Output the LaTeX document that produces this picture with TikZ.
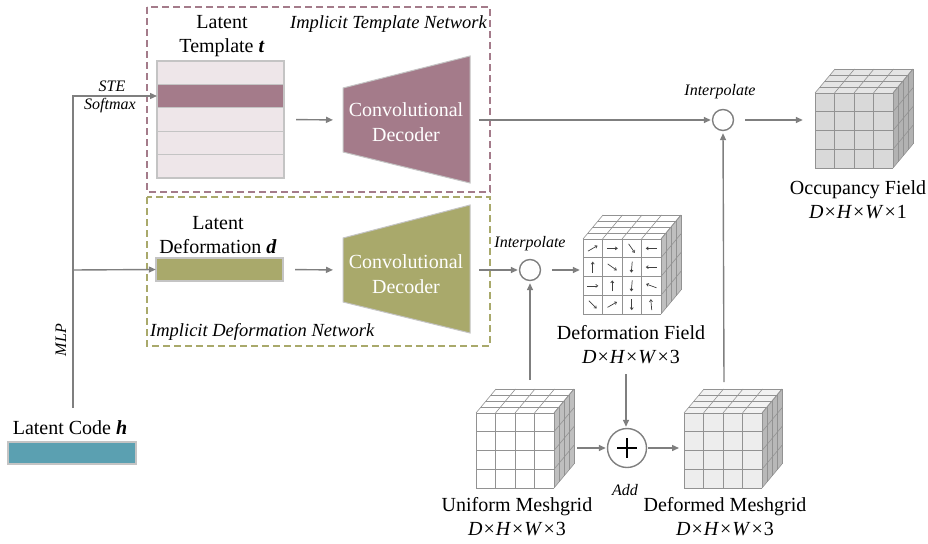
\documentclass[tikz,border=0pt]{standalone}
\usepackage{fontspec}
\setmainfont{Liberation Serif}
\usetikzlibrary{arrows.meta,calc}

\definecolor{mauve}{HTML}{A47B8A}
\definecolor{rowpale}{HTML}{EEE6E9}
\definecolor{olive}{HTML}{A9A96B}
\definecolor{teal}{HTML}{5BA0B1}
\definecolor{wire}{HTML}{7F7F7F}
\definecolor{edge}{HTML}{C4C4C4}

% voxel cube: front face width/height and receding depth offset
\def\cw{78}
\def\ch{75}
\def\cdx{20}
\def\cdy{-24}

% #1,#2 = upper-left corner of the front face; #3 front, #4 side, #5 top fill
\newcommand\voxcube[5]{%
  \begin{scope}[shift={(#1,#2)}]
    \fill[#5] (0,0) -- (\cw,0) -- ++(\cdx,\cdy) -- (\cdx,\cdy) -- cycle;
    \fill[#4] (\cw,0) -- (\cw,\ch) -- ++(\cdx,\cdy) -- (\cw+\cdx,\cdy) -- cycle;
    \fill[#3] (0,0) rectangle (\cw,\ch);
    \foreach \k in {0,...,4} {
      \draw[cubeline] ({\k*\cw/4},0) -- ({\k*\cw/4},\ch);
      \draw[cubeline] (0,{\k*\ch/4}) -- (\cw,{\k*\ch/4});
      \draw[cubeline] ({\k*\cw/4},0) -- ++(\cdx,\cdy);
      \draw[cubeline] ({\k*\cdx/4},{\k*\cdy/4}) -- ++(\cw,0);
      \draw[cubeline] (\cw,{\k*\ch/4}) -- ++(\cdx,\cdy);
      \draw[cubeline] ({\cw+\k*\cdx/4},{\k*\cdy/4}) -- ++(0,\ch);
    }
  \end{scope}}

\newcommand\dimlab[1]{\textit{D}\hspace{1pt}×\hspace{1pt}\textit{H}\hspace{1pt}×\hspace{1pt}\textit{W}\hspace{1pt}×\hspace{1pt}#1}

\tikzset{
  wirearrow/.style={draw=wire, line width=1.4pt, -{Triangle[length=7pt,width=6pt]}},
  wireline/.style={draw=wire, line width=1.4pt},
  cubeline/.style={draw=wire!85, line width=0.6pt},
  label/.style={font=\fontsize{20}{24}\selectfont, inner sep=0pt, align=center},
  smalllab/.style={font=\fontsize{16}{19}\selectfont\itshape, inner sep=0pt},
  netlab/.style={font=\fontsize{18.5}{22}\selectfont\itshape, inner sep=0pt},
  decotext/.style={font=\fontsize{20}{25}\selectfont, text=white, align=center, inner sep=0pt},
  cubeanchor/.style={minimum width=\cw pt, minimum height=\ch pt, inner sep=0pt},
  interp/.style={circle, draw=wire, line width=1.4pt, minimum size=21pt, inner sep=0pt},
  netbox/.style={dashed, dash pattern=on 7pt off 4pt, line width=1.5pt},
  vec/.style={line width=0.7pt, draw=black!75, -{Straight Barb[length=2pt,width=3pt]}},
}

\begin{document}
\begin{tikzpicture}[x=1pt, y=-1pt]
  \useasboundingbox (0,0) rectangle (928,543);

  % ---------- network frames ----------
  \draw[netbox, draw=mauve] (147,7) rectangle (490,192);
  \draw[netbox, draw=olive] (147,197) rectangle (490,346);
  \node[netlab, anchor=east] (tplnet) at (487,24) {Implicit Template Network};
  \node[netlab, anchor=west] (defnet) at (150,332) {Implicit Deformation Network};

  % ---------- latent template ----------
  \node[label] (tpltitle) at (222,36) {Latent\\Template \textbf{\textit{t}}};
  \foreach \r in {0,...,4} {
    \ifnum\r=1
      \filldraw[fill=mauve, draw=edge, line width=1.2pt] (157,{61+\r*23.4}) rectangle (284,{61+(\r+1)*23.4});
    \else
      \filldraw[fill=rowpale, draw=edge, line width=1.2pt] (157,{61+\r*23.4}) rectangle (284,{61+(\r+1)*23.4});
    \fi
  }
  \node[inner sep=0pt, minimum width=127pt, minimum height=117pt] (tpl) at (220.5,119.5) {};
  \coordinate (tplrow) at (157,96);

  % ---------- template decoder ----------
  \filldraw[fill=mauve, draw=edge, line width=1pt] (343,88) -- (470,56) -- (470,183) -- (343,152) -- cycle;
  \node[decotext] (dec1) at (406,122) {Convolutional\\Decoder};
  \coordinate (dec1in) at (343,120);
  \coordinate (dec1out) at (470,120);

  % ---------- latent deformation ----------
  \node[label] (deftitle) at (218,235) {Latent\\Deformation \textbf{\textit{d}}};
  \filldraw[fill=olive, draw=edge, line width=1.2pt] (156,258) rectangle (283,281);
  \node[inner sep=0pt, minimum width=127pt, minimum height=23pt] (defbar) at (219.5,269.5) {};

  % ---------- deformation decoder ----------
  \filldraw[fill=olive, draw=edge, line width=1pt] (343,238) -- (470,205) -- (470,333) -- (343,302) -- cycle;
  \node[decotext] (dec2) at (406,274) {Convolutional\\Decoder};
  \coordinate (dec2in) at (343,270);
  \coordinate (dec2out) at (470,270);

  % ---------- latent code ----------
  \node[label] (codetitle) at (70,428) {Latent Code \textbf{\textit{h}}};
  \filldraw[fill=teal, draw=edge, line width=1.2pt] (8,442) rectangle (136,464);
  \node[inner sep=0pt, minimum width=128pt, minimum height=22pt] (code) at (72,453) {};
  \coordinate (mlpbot) at (73,408);
  \coordinate (split) at (73,270);

  \node[smalllab, rotate=90] (mlp) at (61,340) {MLP};
  \node[smalllab] (ste) at (112,86) {STE};
  \node[smalllab] (softmax) at (110,106) {Softmax};

  % ---------- interpolation and addition ----------
  \node[interp] (ip1) at (723,120) {};
  \node[smalllab] (ip1lab) at (720,92) {Interpolate};
  \node[interp] (ip2) at (530,270) {};
  \node[smalllab] (ip2lab) at (530,244) {Interpolate};
  \node[circle, draw=wire, line width=1.4pt, fill=white, minimum size=39pt, inner sep=0pt] (add) at (627,448) {};
  \draw[line width=1.8pt] ($(add)+(-10,0)$) -- ($(add)+(10,0)$) ($(add)+(0,-10)$) -- ($(add)+(0,10)$);
  \node[smalllab] (addlab) at (625,490) {Add};

  % ---------- voxel grids ----------
  % occupancy field
  \voxcube{815}{93}{black!15}{black!30}{black!10}
  \node[cubeanchor] (occ) at (854,130.5) {};
  \node[label] (occlab) at (858,200) {Occupancy Field\\\dimlab{1}};

  % deformation field
  \voxcube{583}{239}{white}{black!25}{white}
  \node[cubeanchor] (dfield) at (622,276.5) {};
  \node[label] (dfieldlab) at (631,345) {Deformation Field\\\dimlab{3}};
  \begin{scope}[shift={(583,239)}]
    % displacement vectors, one per front cell: column, row, screen angle
    \foreach \c/\r/\a in {0/0/30, 1/0/0, 2/0/-55, 3/0/180,
                          0/1/90, 1/1/-35, 2/1/-95, 3/1/180,
                          0/2/0, 1/2/90, 2/2/-95, 3/2/160,
                          0/3/-45, 1/3/30, 2/3/-90, 3/3/95}
      \draw[vec] ($({(\c+0.5)*\cw/4},{(\r+0.5)*\ch/4})+({-\a-180}:5.5)$) -- ++({-\a}:11);
  \end{scope}

  % uniform meshgrid
  \voxcube{476}{413}{white}{black!25}{white}
  \node[cubeanchor] (umesh) at (515,450.5) {};
  \node[label] (umeshlab) at (517,517) {Uniform Meshgrid\\\dimlab{3}};

  % deformed meshgrid
  \voxcube{684}{413}{black!7}{black!28}{black!5}
  \node[cubeanchor] (dmesh) at (723,450.5) {};
  \node[label] (dmeshlab) at (725,517) {Deformed Meshgrid\\\dimlab{3}};

  % ---------- connectors ----------
  \draw[wireline] (mlpbot) -- (split);
  \draw[wirearrow] (split) |- (tplrow);
  \draw[wirearrow] (split) -- (defbar.west);
  \draw[wirearrow, shorten <=12pt, shorten >=10pt] (tpl.east) -- (dec1in);
  \draw[wirearrow, shorten <=12pt, shorten >=10pt] (defbar.east) -- (dec2in);
  \draw[wirearrow, shorten <=9pt, shorten >=1pt] (dec1out) -- (ip1.west);
  \draw[wirearrow, shorten <=9pt, shorten >=1pt] (dec2out) -- (ip2.west);
  \draw[wirearrow, shorten <=11pt, shorten >=12pt] (ip1.east) -- (ip1.east -| occ.west);
  \draw[wirearrow, shorten <=11pt, shorten >=3pt] (ip2.east) -- (ip2.east -| dfield.west);
  \draw[wirearrow, shorten >=2pt] (530,380) -- (ip2.south);
  \draw[wirearrow, shorten >=2pt] (724,382) -- (ip1.south);
  \draw[wirearrow, shorten <=2pt, shorten >=1pt] (626,372) -- (add.north -| 626,0);
  \draw[wirearrow, shorten >=1pt] (577,448) -- (add.west);
  \draw[wirearrow, shorten <=1pt] (add.east) -- (679,448);
\end{tikzpicture}
\end{document}
